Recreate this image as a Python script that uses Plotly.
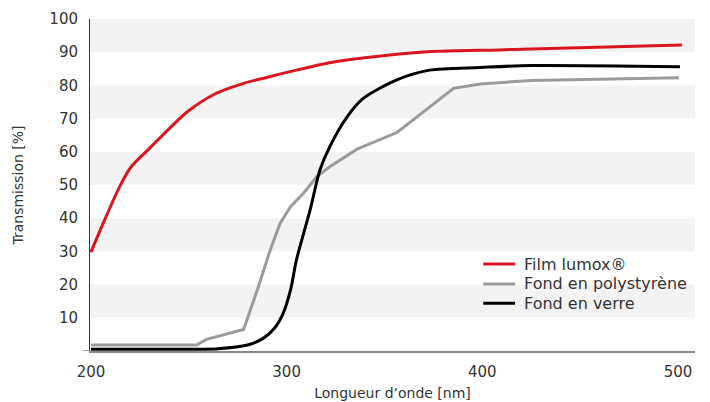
import plotly.graph_objects as go

# Data
lumox_x = [200, 207, 215.5, 220.6, 229, 239.4, 249.6, 263.3, 276.9, 289.7, 305, 322, 340, 372, 409, 425, 502]
lumox_y = [29.8, 39.5, 50.5, 55.5, 60.5, 66.6, 72.2, 77.4, 80.4, 82.4, 84.6, 86.8, 88.3, 90.1, 90.7, 91, 92.2]

verre_x = [200, 240, 265, 280, 288, 294, 298, 302, 305, 312, 317, 322, 331, 339, 356, 373, 399, 425, 501]
verre_y = [0.5, 0.5, 0.7, 1.8, 3.8, 7, 11, 18.4, 27.4, 42.5, 54.5, 61.5, 70.6, 76, 81.6, 84.6, 85.4, 86, 85.6]

poly_x = [200, 254, 259, 278, 285, 291.6, 296.7, 302, 308.6, 315.4, 322, 336, 356.4, 373.4, 385.3, 399, 425, 500.5]
poly_y = [1.8, 1.8, 3.5, 6.5, 18.4, 30.4, 38.5, 43.5, 47.5, 52.5, 55.5, 60.8, 65.8, 73.6, 79.1, 80.4, 81.5, 82.3]

series_names = ["Film lumox®", "Fond en polystyrène", "Fond en verre"]
series_colors = ["#d9161f", "#9b9b9b", "#000000"]

x_ticks = [200, 300, 400, 500]
y_ticks = [10, 20, 30, 40, 50, 60, 70, 80, 90, 100]
band_ranges = [(10, 20), (30, 40), (50, 60), (70, 80), (90, 100)]

FONT = "DejaVu Sans"

fig = go.Figure()
fig.add_trace(go.Scatter(x=lumox_x, y=lumox_y, mode="lines", name=series_names[0],
                         line=dict(color=series_colors[0], width=3, shape="spline", smoothing=1.0)))
fig.add_trace(go.Scatter(x=poly_x, y=poly_y, mode="lines", name=series_names[1],
                         line=dict(color=series_colors[1], width=3)))
fig.add_trace(go.Scatter(x=verre_x, y=verre_y, mode="lines", name=series_names[2],
                         line=dict(color=series_colors[2], width=3, shape="spline", smoothing=0.8)))

shapes = []
for lo, hi in band_ranges:
    shapes.append(dict(type="rect", xref="paper", yref="y", x0=0, x1=1, y0=lo, y1=hi,
                       fillcolor="#f3f3f3", line=dict(width=0), layer="below"))
shapes.append(dict(type="line", xref="paper", yref="y", x0=-0.012, x1=0, y0=0, y1=0,
                   line=dict(color="#888888", width=1.5)))

# Manual legend (compact row spacing as in reference)
annotations = []
legend_rows_y = [26.2, 20.2, 14.4]
for name, color, ly in zip(series_names, series_colors, legend_rows_y):
    shapes.append(dict(type="line", xref="paper", yref="y", x0=0.650, x1=0.7025, y0=ly, y1=ly,
                       line=dict(color=color, width=3)))
    annotations.append(dict(xref="paper", yref="y", x=0.714, y=ly, text=name, showarrow=False,
                            xanchor="left", yanchor="middle",
                            font=dict(size=16, color="#333333", family=FONT)))

fig.update_layout(
    width=710, height=402,
    margin=dict(l=90, r=15, t=19, b=51),
    paper_bgcolor="white", plot_bgcolor="white",
    font=dict(family=FONT, color="#333333"),
    shapes=shapes,
    annotations=annotations,
    showlegend=False,
    xaxis=dict(range=[199.5, 508.7], tickvals=x_ticks, showgrid=False, zeroline=False,
               showline=True, linecolor="#888888", linewidth=2, automargin=False,
               tickfont=dict(size=15, color="#333333"), ticks="",
               ticklabelstandoff=6,
               title=dict(text="Longueur d’onde [nm]", font=dict(size=14, color="#333333"),
                          standoff=8)),
    yaxis=dict(range=[0, 100], tickvals=y_ticks, showgrid=False, zeroline=False,
               showline=True, linecolor="#333333", linewidth=1, automargin=False,
               tickfont=dict(size=15, color="#333333"), ticks="",
               ticklabelstandoff=8,
               title=dict(text="Transmission [%]", font=dict(size=14, color="#333333"),
                          standoff=22)),
)

fig.write_html("out.html", config={"displayModeBar": False},
               post_script="document.body.style.margin='0';")
